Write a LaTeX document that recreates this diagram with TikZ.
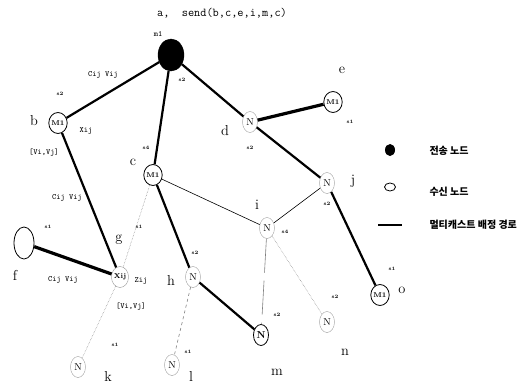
\documentclass[tikz,border=0pt]{standalone}
\usepackage{fontspec}
\newfontfamily\krfont{Noto Sans CJK KR}
\usetikzlibrary{shapes.geometric, positioning}
\tikzset{
    mnode/.style={ellipse, draw=black, thick, inner sep=0pt, minimum width=15pt, minimum height=21pt, font=\scriptsize\bfseries},
    nnode/.style={ellipse, draw=gray!80, thin, inner sep=0pt, minimum width=15pt, minimum height=21pt, font=\normalsize},
    lbl/.style={font=\Large},
    tag/.style={font=\tiny\bfseries, inner sep=1pt},
    cost/.style={font=\footnotesize\ttfamily, inner sep=1pt},
    heavy/.style={line width=2.2pt},
    vheavy/.style={line width=3.2pt},
    light/.style={line width=0.6pt},
    dotline/.style={densely dotted, line width=0.5pt, gray},
    legtext/.style={font=\krfont\fontsize{10}{12}\selectfont\bfseries, anchor=west}
}
\begin{document}
\begin{tikzpicture}[x=1pt, y=-1pt]
    \useasboundingbox (0,0) rectangle (529,388);
    % nodes
    \node[ellipse, fill=black, draw=black, minimum width=26pt, minimum height=32pt] (a) at (171,55) {};
    \node[mnode] (b) at (58,123) {M1};
    \node[mnode] (c) at (153,175) {M1};
    \node[nnode] (d) at (250,122) {N};
    \node[mnode] (e) at (333,102) {M1};
    \node[nnode] (j) at (327,183) {N};
    \node[nnode] (i) at (267,228) {N};
    \node[ellipse, draw=black, thick, minimum width=20pt, minimum height=32pt] (f) at (24,243) {};
    \node[nnode, font=\scriptsize\bfseries] (g) at (120,277) {Xij};
    \node[nnode] (h) at (193,277) {N};
    \node[nnode, draw=black, thick, font=\normalsize\bfseries] (m) at (261,335) {N};
    \node[nnode] (n) at (327,322) {N};
    \node[mnode] (o) at (380,295) {M1};
    \node[nnode] (k) at (78,367) {N};
    \node[nnode] (l) at (172,365) {N};
    % edges
    \draw[heavy] (a) -- (b); \draw[heavy] (a) -- (c); \draw[heavy] (a) -- (d);
    \draw[vheavy] (d) -- (e); \draw[heavy] (d) -- (j); \draw[heavy] (j) -- (o);
    \draw[heavy] (b) -- (g); \draw[vheavy] (f) -- (g);
    \draw[heavy] (c) -- (h); \draw[heavy] (h) -- (m);
    \draw[light] (c) -- (i); \draw[light] (j) -- (i);
    \draw[dotline] (c) -- (g); \draw[dotline] (g) -- (k);
    \draw[dashed, light, gray] (h) -- (l); \draw[dotline] (i) -- (n);
    \draw[light, gray, dash pattern=on 34pt off 8pt] (i) -- (m);
    % labels
    \node[font=\ttfamily\large] (title) at (222,13) {a,\ \ send(b,c,e,i,m,c)};
    \node[cost] (am) at (158,34) {m1};
    \node[tag] at (182,80) {s2};
    \node[cost] at (103,75) {Cij Vij};
    \node[lbl] at (34,121) {b};
    \node[tag] at (60,94) {s2};
    \node[cost] at (86,131) {Xij};
    \node[cost] at (44,153) {[Vi,Vj]};
    \node[cost] at (67,198) {Cij Vij};
    \node[lbl] at (133,162) {c};
    \node[tag] at (146,148) {s4};
    \node[lbl] at (225,131) {d};
    \node[tag] at (250,148) {s2};
    \node[lbl] at (342,70) {e};
    \node[tag] at (350,122) {s1};
    \node[lbl] at (353,181) {j};
    \node[tag] at (327,204) {s2};
    \node[lbl] at (257,205) {i};
    \node[tag] at (285,232) {s4};
    \node[lbl] at (119,240) {g};
    \node[tag] at (139,227) {s1};
    \node[cost] at (141,281) {Zij};
    \node[cost] at (131,307) {[Vi,Vj]};
    \node[lbl] at (15,275) {f};
    \node[tag] at (48,227) {s1};
    \node[cost] at (63,280) {Cij Vij};
    \node[lbl] at (171,280) {h};
    \node[tag] at (195,253) {s2};
    \node[lbl] at (108,376) {k};
    \node[tag] at (115,345) {s1};
    \node[lbl] at (191,376) {l};
    \node[tag] at (188,352) {s1};
    \node[lbl] at (277,372) {m};
    \node[tag] at (277,315) {s2};
    \node[lbl] at (345,352) {n};
    \node[tag] at (335,297) {s2};
    \node[lbl] at (402,290) {o};
    \node[tag] at (392,269) {s1};
    % legend
    \node[ellipse, fill=black, minimum width=10pt, minimum height=12pt, inner sep=0pt] (lg1) at (390,150) {};
    \node[legtext] (lt1) at (426,151) {전송 노드};
    \node[ellipse, draw=black, thick, minimum width=11pt, minimum height=8pt, inner sep=0pt] (lg2) at (390,187) {};
    \node[legtext] (lt2) at (426,192) {수신 노드};
    \coordinate (lg3a) at (378,225);
    \coordinate (lg3b) at (402,225);
    \draw[line width=2.2pt] (lg3a) -- (lg3b);
    \node[legtext] (lt3) at (426,225) {멀티캐스트 배정 경로};
\end{tikzpicture}
\end{document}
